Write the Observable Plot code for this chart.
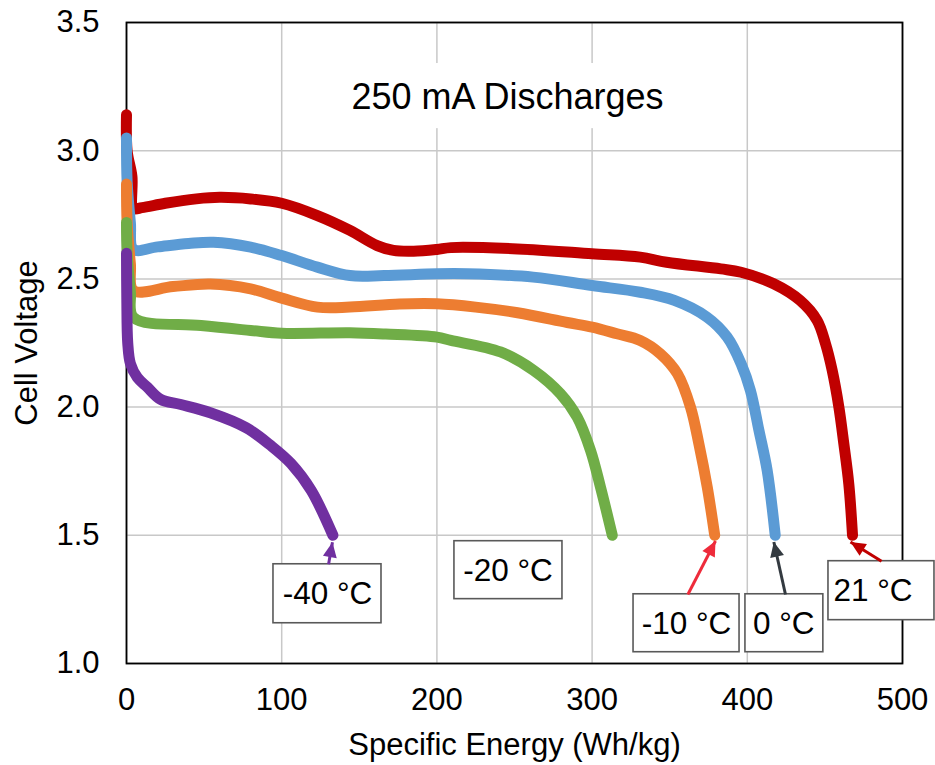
<!DOCTYPE html>
<html>
<head>
<meta charset="utf-8">
<script src="https://cdn.jsdelivr.net/npm/d3@7"></script>
<script src="https://cdn.jsdelivr.net/npm/@observablehq/plot@0.6"></script>
<style>
  html, body { margin: 0; padding: 0; background: #fff; }
  #chart svg { display: block; }
</style>
</head>
<body>
<div id="chart"></div>
<script>
// ---------- data ----------
const seriesNames = ["21 °C", "0 °C", "-10 °C", "-20 °C", "-40 °C"];
const seriesColors = ["#C00000", "#5B9BD5", "#ED7D31", "#70AD47", "#7030A0"];

const energy21 = [0, 0.4, 3.5, 4.5, 10, 25, 45, 60, 80, 100, 123, 144, 161.5, 172, 185, 200, 209, 252, 300, 331, 348, 383, 396, 417, 434, 445, 450.4, 454.7, 459, 462.2, 465.4, 467.8];
const volt21   = [3.14, 3.0, 2.9, 2.775, 2.778, 2.795, 2.812, 2.818, 2.812, 2.795, 2.747, 2.689, 2.63, 2.611, 2.608, 2.615, 2.622, 2.617, 2.598, 2.585, 2.565, 2.539, 2.526, 2.481, 2.416, 2.338, 2.247, 2.143, 2.0, 1.857, 1.70, 1.5];

const energy0 = [0, 0.4, 2.5, 4.5, 20, 40, 56, 80, 100, 123, 144, 166, 200, 220, 262, 300, 331, 353, 374, 387, 396, 402, 407.5, 412.8, 418];
const volt0   = [3.05, 2.88, 2.72, 2.615, 2.625, 2.638, 2.643, 2.624, 2.591, 2.546, 2.513, 2.513, 2.52, 2.52, 2.507, 2.474, 2.448, 2.416, 2.351, 2.273, 2.169, 2.065, 1.909, 1.753, 1.5];

const energyM10 = [0, 0.4, 2.5, 4.5, 30, 54, 80, 100, 123, 144, 176, 200, 225, 252, 284, 300, 316, 331, 344, 355, 363.4, 368.8, 374.2, 379];
const voltM10   = [2.87, 2.72, 2.56, 2.455, 2.47, 2.48, 2.461, 2.425, 2.39, 2.39, 2.402, 2.403, 2.39, 2.368, 2.33, 2.312, 2.286, 2.26, 2.208, 2.13, 2.0, 1.857, 1.688, 1.5];

const energyM20 = [0, 0.4, 2.5, 4.5, 48, 80, 100, 144, 167, 200, 209, 241, 262.4, 279.6, 290.4, 299, 305.4, 313];
const voltM20   = [2.72, 2.6, 2.45, 2.35, 2.318, 2.299, 2.288, 2.29, 2.285, 2.273, 2.26, 2.215, 2.143, 2.052, 1.961, 1.831, 1.688, 1.5];

const energyM40 = [0, 0.2, 0.8, 2.5, 7, 13.5, 22, 35, 54, 77, 93, 106, 119, 133];
const voltM40   = [2.60, 2.42, 2.25, 2.17, 2.115, 2.077, 2.03, 2.01, 1.978, 1.92, 1.85, 1.78, 1.675, 1.5];

const seriesEnergy = [energy21, energy0, energyM10, energyM20, energyM40];
const seriesVolt = [volt21, volt0, voltM10, voltM20, voltM40];

const xTicks = [0, 100, 200, 300, 400, 500];
const yTicks = [1.0, 1.5, 2.0, 2.5, 3.0, 3.5];
const xLabel = "Specific Energy (Wh/kg)";
const yLabel = "Cell Voltage";

const titleText = "250 mA Discharges";
const titleEnergy = 245.5, titleVolt = 3.207;
const titleBoxEnergy = [138, 354], titleBoxVolt = [3.086, 3.34];

// annotation callouts (in data units)
const calloutLabels = ["21 °C", "0 °C", "-10 °C", "-20 °C", "-40 °C"];
const calloutEnergy = [481, 423.5, 360.8, 245.8, 129.5];
const calloutVolt = [1.282, 1.156, 1.156, 1.36, 1.27];
const calloutBoxE1 = [452.3, 398.8, 326.7, 211.3, 94.7];
const calloutBoxE2 = [520.6, 449, 395, 280.9, 164.3];
const calloutBoxV1 = [1.169, 1.044, 1.044, 1.251, 1.157];
const calloutBoxV2 = [1.399, 1.27, 1.27, 1.477, 1.387];
const arrowFromE = [486.5, 424.6, 361.7, null, 130.2];
const arrowFromV = [1.399, 1.269, 1.269, null, 1.387];
const arrowToE = [466.5, 417.1, 379.5, null, 132.7];
const arrowToV = [1.474, 1.474, 1.478, null, 1.473];
const arrowColors = ["#C00000", "#333A40", "#EE2B3B", null, "#7030A0"];

// ---------- build ----------
const FONT = "'Liberation Sans', Arial, Helvetica, sans-serif";

function filledHead(color, context) {
  const doc = (context && context.document) || document;
  const ns = "http://www.w3.org/2000/svg";
  const marker = doc.createElementNS(ns, "marker");
  marker.setAttribute("viewBox", "-16 -8 17 16");
  marker.setAttribute("markerWidth", "17");
  marker.setAttribute("markerHeight", "16");
  marker.setAttribute("markerUnits", "userSpaceOnUse");
  marker.setAttribute("orient", "auto");
  marker.setAttribute("refX", "0");
  marker.setAttribute("refY", "0");
  const path = doc.createElementNS(ns, "path");
  path.setAttribute("d", "M-15,-7L0,0L-15,7Z");
  path.setAttribute("fill", color);
  path.setAttribute("stroke", "none");
  marker.appendChild(path);
  return marker;
}

const lineMarks = seriesNames.map((name, s) =>
  Plot.line(seriesEnergy[s].map((e, i) => ({energy: e, volt: seriesVolt[s][i]})), {
    x: "energy", y: "volt",
    stroke: seriesColors[s], strokeWidth: 11,
    strokeLinecap: "round", strokeLinejoin: "round",
    curve: "catmull-rom"
  })
);

const callIdx = d3.range(calloutLabels.length);
const arrowIdx = callIdx.filter(i => arrowFromE[i] != null);

const chart = Plot.plot({
  width: 935,
  height: 765,
  marginLeft: 126,
  marginRight: 33,
  marginTop: 22,
  marginBottom: 102,
  style: {fontFamily: FONT, fontSize: "31px", color: "#000", background: "#fff", overflow: "visible"},
  x: {domain: [0, 500]},
  y: {domain: [1, 3.5]},
  marks: [
    Plot.gridX(xTicks, {stroke: "#c8c8c8", strokeOpacity: 1, strokeWidth: 1.5}),
    Plot.gridY(yTicks, {stroke: "#c8c8c8", strokeOpacity: 1, strokeWidth: 1.5}),
    Plot.axisX(xTicks, {tickSize: 0, tickPadding: 24, tickFormat: d3.format("d"), fontSize: 31,
      label: xLabel, labelAnchor: "center", labelOffset: 91, labelArrow: "none"}),
    Plot.axisY(yTicks, {tickSize: 0, tickPadding: 27, tickFormat: d3.format(".1f"), fontSize: 31,
      label: yLabel, labelAnchor: "center", labelOffset: 112, labelArrow: "none"}),
    Plot.frame({stroke: "#000", strokeWidth: 1.8}),
    Plot.rect([0], {x1: () => titleBoxEnergy[0], x2: () => titleBoxEnergy[1], y1: () => titleBoxVolt[0], y2: () => titleBoxVolt[1], fill: "#fff"}),
    Plot.text([titleText], {x: () => titleEnergy, y: () => titleVolt, text: d => d, fontSize: 36, fill: "#000"}),
    ...lineMarks,
    Plot.rect(callIdx, {x1: i => calloutBoxE1[i], x2: i => calloutBoxE2[i], y1: i => calloutBoxV1[i], y2: i => calloutBoxV2[i],
      fill: "#fff", stroke: "#595959", strokeWidth: 1.6}),
    Plot.text(callIdx, {x: i => calloutEnergy[i], y: i => calloutVolt[i], text: i => calloutLabels[i], fontSize: 31.5, fill: "#000"}),
    Plot.link(arrowIdx, {x1: i => arrowFromE[i], y1: i => arrowFromV[i], x2: i => arrowToE[i], y2: i => arrowToV[i],
      stroke: i => arrowColors[i], strokeWidth: 3, strokeLinecap: "butt", markerEnd: filledHead})
  ]
});

document.getElementById("chart").appendChild(chart);
</script>
</body>
</html>
